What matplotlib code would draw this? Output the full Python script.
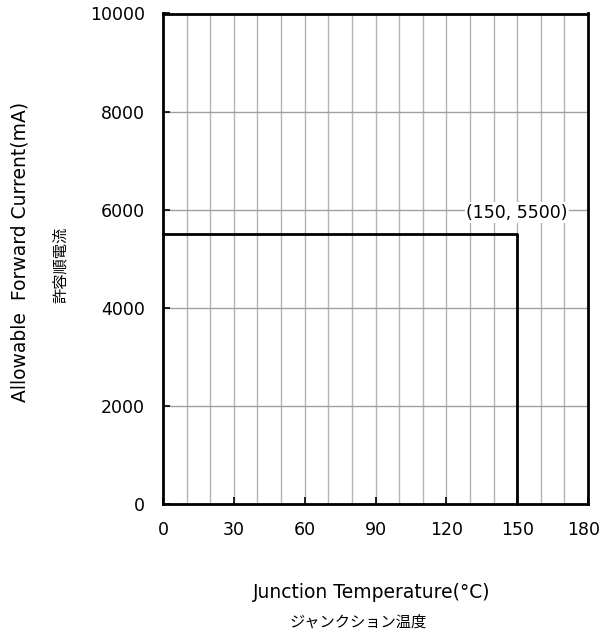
#!/usr/bin/env python3
# -*- coding: utf-8 -*-
# Allowable forward current vs junction temperature (derating curve)

import matplotlib
matplotlib.use('Agg')
import matplotlib.pyplot as plt
import matplotlib.transforms as mtransforms

#==============================================================================
#DATA
#==============================================================================

temp = [0, 150, 150]          # junction temperature (degC)
current = [5500, 5500, 0]     # allowable forward current (mA)

xticks = [0, 30, 60, 90, 120, 150, 180]
yticks = [0, 2000, 4000, 6000, 8000, 10000]
xgrid = list(range(0, 181, 10))

point_label = '(150, 5500)'

#==============================================================================
#SETTINGS
#==============================================================================

plt.rcParams['font.family'] = ['DejaVu Sans', 'Noto Sans CJK JP']
tick_font = 12.5
label_font = 13.5
jp_font = 11
jp_family = ['Noto Sans CJK JP', 'DejaVu Sans']

#==============================================================================
#PLOTTING
#==============================================================================

f = plt.figure(figsize=(6.03, 6.38), dpi=100)
ax = f.add_axes([163/603, 1-504/638, 425/603, 490.5/638])

ax.plot(temp, current, color='k', lw=2, clip_on=False, zorder=3)

ax.set_xlim(0, 180)
ax.set_ylim(0, 10000)
ax.set_xticks(xticks)
ax.set_yticks(yticks)
ax.set_xticks(xgrid, minor=True)

#grid
ax.xaxis.grid(True, which='minor', color='#b4b4b4', lw=1)
ax.xaxis.grid(True, which='major', color='#b4b4b4', lw=1)
ax.yaxis.grid(True, which='major', color='#a0a0a0', lw=1)
ax.set_axisbelow(True)

ax.tick_params(which='major', direction='in', length=5, width=1.2,
               labelsize=tick_font)
ax.tick_params(axis='y', pad=13)
ax.tick_params(axis='x', pad=12)
ax.tick_params(which='minor', length=0)
for s in ax.spines.values():
    s.set_linewidth(2)

#nudge last x label so it stays inside the figure
last = ax.get_xticklabels()[-1]
last.set_transform(last.get_transform() +
                   mtransforms.ScaledTranslation(-4/100, 0, f.dpi_scale_trans))

#annotation
ax.annotate(point_label, xy=(150, 6000), xytext=(0, -3), textcoords='offset pixels',
            fontsize=tick_font, ha='center', va='center',
            bbox=dict(facecolor='white', edgecolor='none', pad=1), zorder=2)

#labels
f.text(20/603, 1-252/638, 'Allowable  Forward Current(mA)', rotation=90,
       ha='center', va='center', fontsize=label_font)
f.text(60/603, 1-265/638, '許容順電流', rotation=90, ha='center', va='center',
       fontsize=jp_font, family=jp_family)
f.text(372/603, 1-593/638, 'Junction Temperature(°C)', ha='center',
       va='center', fontsize=label_font)
f.text(358/603, 1-622/638, 'ジャンクション温度', ha='center', va='center',
       fontsize=jp_font, family=jp_family)

f.savefig('out.png', dpi=100)
